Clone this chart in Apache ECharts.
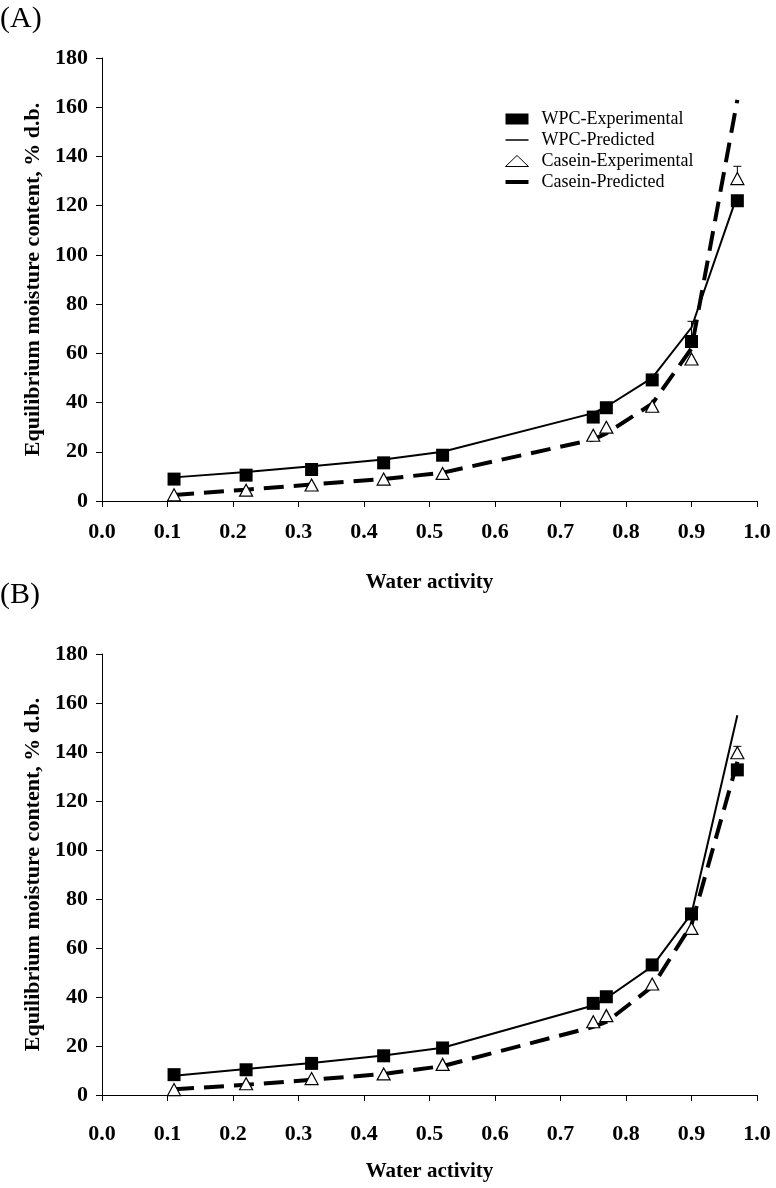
<!DOCTYPE html>
<html>
<head>
<meta charset="utf-8">
<script src="https://cdn.jsdelivr.net/npm/echarts@6/dist/echarts.min.js"></script>
<style>
html,body{margin:0;padding:0;background:#fff;}
#chart{width:776px;height:1188px;}
</style>
</head>
<body>
<div id="chart"></div>
<script>
// Water activity (x)
const aw = [0.11, 0.22, 0.32, 0.43, 0.52, 0.75, 0.77, 0.84, 0.90, 0.97];

// Panel A
const wpcExpA  = [8.9, 10.5, 12.8, 15.5, 18.6, 34.1, 37.9, 49.2, 64.8, 122.0];
const wpcPredA = [9.6, 11.8, 14.1, 16.9, 20.0, 35.7, 38.3, 50.0, 70.5, 124.3];
const casExpA  = [2.5, 4.4, 6.5, 8.9, 11.2, 26.7, 30.0, 38.5, 57.7, 131.0];
const casPredA = [2.4, 4.6, 6.7, 8.9, 11.5, 25.0, 27.5, 39.5, 62.0, 163.0];
// error bars A: [x, value, upper]
const errA = [[0.90, 64.8, 73.0], [0.97, 131.0, 136.0]];

// Panel B
const wpcExpB  = [8.3, 10.3, 12.9, 16.0, 19.2, 37.4, 40.1, 53.1, 73.9, 132.7];
const wpcPredB = [7.9, 10.6, 13.1, 16.1, 19.3, 36.5, 39.5, 52.5, 74.0, 155.0];
const casExpB  = [2.2, 4.6, 6.7, 8.6, 12.5, 29.9, 32.4, 45.3, 68.0, 139.7];
const casPredB = [2.3, 4.2, 6.2, 8.6, 11.8, 27.8, 29.8, 44.2, 69.5, 136.0];
const errB = [[0.97, 139.7, 142.3]];

// Axis ticks
const xTicks = {min: 0, max: 1, interval: 0.1};
const yTicks = {min: 0, max: 180, interval: 20};

const names = ['WPC-Experimental', 'WPC-Predicted', 'Casein-Experimental', 'Casein-Predicted'];

const FONT = 'Liberation Serif';
const pair = (xs, ys) => xs.map((x, i) => [x, ys[i]]);

function xAxis(gi, nameGap, labelMargin) {
  return {
    type: 'value', gridIndex: gi, min: xTicks.min, max: xTicks.max, interval: xTicks.interval,
    name: 'Water activity', nameLocation: 'middle', nameGap: nameGap,
    nameTextStyle: {fontFamily: FONT, fontWeight: 'bold', fontSize: 21, color: '#000'},
    axisLine: {show: true, onZero: false, lineStyle: {color: '#000', width: 1}},
    axisTick: {show: true, inside: false, length: 6, lineStyle: {color: '#000'}},
    axisLabel: {fontFamily: FONT, fontWeight: 'bold', fontSize: 22, color: '#000', margin: labelMargin,
      formatter: v => v.toFixed(1)},
    splitLine: {show: false}
  };
}
function yAxis(gi) {
  return {
    type: 'value', gridIndex: gi, min: yTicks.min, max: yTicks.max, interval: yTicks.interval,
    name: 'Equilibrium moisture content, % d.b.', nameLocation: 'middle', nameGap: 51, nameRotate: 90,
    nameTextStyle: {fontFamily: FONT, fontWeight: 'bold', fontSize: 22, color: '#000'},
    axisLine: {show: true, lineStyle: {color: '#000', width: 1}},
    axisTick: {show: true, inside: false, length: 6, lineStyle: {color: '#000'}},
    axisLabel: {fontFamily: FONT, fontWeight: 'bold', fontSize: 22, color: '#000', margin: 14},
    splitLine: {show: false}
  };
}

function errSeries(gi, data) {
  return {
    type: 'custom', xAxisIndex: gi, yAxisIndex: gi, z: 1, silent: true,
    data: data,
    renderItem: function (params, api) {
      const p0 = api.coord([api.value(0), api.value(1)]);
      const p1 = api.coord([api.value(0), api.value(2)]);
      return {
        type: 'group',
        children: [
          {type: 'line', shape: {x1: p0[0], y1: p0[1], x2: p1[0], y2: p1[1]}, style: {stroke: '#000', lineWidth: 1}},
          {type: 'line', shape: {x1: p1[0] - 4, y1: p1[1], x2: p1[0] + 4, y2: p1[1]}, style: {stroke: '#000', lineWidth: 1}}
        ]
      };
    }
  };
}

function panelSeries(gi, wExp, wPred, cExp, cPred, err) {
  return [
    {name: names[1], type: 'line', xAxisIndex: gi, yAxisIndex: gi, data: pair(aw, wPred),
      symbol: 'none', lineStyle: {color: '#000', width: 2, type: 'solid'}, itemStyle: {color: '#000'}, z: 2},
    {name: names[3], type: 'line', xAxisIndex: gi, yAxisIndex: gi, data: pair(aw, cPred),
      symbol: 'none', lineStyle: {color: '#000', width: 4, type: [20, 10]}, itemStyle: {color: '#000'}, z: 2},
    errSeries(gi, err),
    {name: names[0], type: 'scatter', xAxisIndex: gi, yAxisIndex: gi, data: pair(aw, wExp),
      symbol: 'rect', symbolSize: 13, itemStyle: {color: '#000', opacity: 1}, z: 4},
    {name: names[2], type: 'scatter', xAxisIndex: gi, yAxisIndex: gi, data: pair(aw, cExp),
      symbol: 'triangle', symbolSize: [13, 12], itemStyle: {color: '#fff', borderColor: '#000', borderWidth: 1.2, opacity: 1}, z: 5}
  ];
}

const option = {
  backgroundColor: '#fff',
  animation: false,
  title: [
    {text: '(A)', left: 0, top: 4, padding: 0, textStyle: {fontFamily: FONT, fontWeight: 'normal', fontSize: 30, color: '#000'}},
    {text: '(B)', left: 0, top: 580, padding: 0, textStyle: {fontFamily: FONT, fontWeight: 'normal', fontSize: 30, color: '#000'}}
  ],
  legend: {
    orient: 'vertical', left: 500, top: 105, itemWidth: 23, itemHeight: 11, itemGap: 3,
    data: [
      {name: names[0], icon: 'rect'},
      {name: names[1], icon: 'path://M0,0 L46,0 L46,3 L0,3 Z'},
      {name: names[2], icon: 'triangle', itemStyle: {color: '#fff', borderColor: '#000', borderWidth: 1}},
      {name: names[3], icon: 'path://M0,0 L46,0 L46,8 L0,8 Z'}
    ],
    itemStyle: {color: '#000', borderWidth: 0},
    symbolKeepAspect: true,
    textStyle: {fontFamily: FONT, fontSize: 18, color: '#000', padding: [0, 0, 0, 8]},
    selectedMode: false
  },
  grid: [
    {left: 102, width: 655, top: 58, height: 443},
    {left: 102, width: 655, top: 654, height: 441}
  ],
  xAxis: [xAxis(0, 71, 20), xAxis(1, 66, 28)],
  yAxis: [yAxis(0), yAxis(1)],
  series: [].concat(
    panelSeries(0, wpcExpA, wpcPredA, casExpA, casPredA, errA),
    panelSeries(1, wpcExpB, wpcPredB, casExpB, casPredB, errB)
  )
};

const chart = echarts.init(document.getElementById('chart'), null, {renderer: 'canvas'});
chart.setOption(option);
</script>
</body>
</html>
